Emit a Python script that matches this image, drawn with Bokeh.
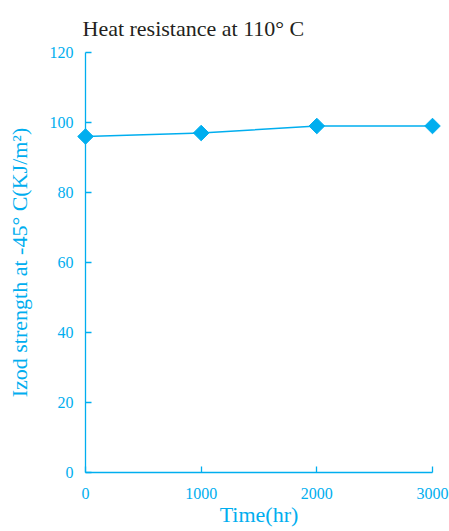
import numpy as np
from bokeh.plotting import figure
from bokeh.models import LinearAxis, FixedTicker, Range1d, ColumnDataSource
from bokeh.embed import file_html
from bokeh.resources import INLINE

# Data
time_hr = [0, 1000, 2000, 3000]
izod_strength = [96, 97, 99, 99]
x_ticks = [0, 1000, 2000, 3000]
y_ticks = [0, 20, 40, 60, 80, 100, 120]

CYAN = "#00AEEF"
DARK = "#231F20"
FONT = "Liberation Serif"

src = ColumnDataSource(dict(x=time_hr, y=izod_strength))

p = figure(
    width=449, height=531,
    x_range=Range1d(0, 3000), y_range=Range1d(0, 120),
    output_backend="svg", toolbar_location=None,
    x_axis_location=None, y_axis_location=None,
    min_border_left=85, min_border_right=17, min_border_top=52, min_border_bottom=59,
    background_fill_color="white", border_fill_color="white",
)
p.outline_line_color = None
p.grid.visible = False

p.title.text = "Heat resistance at 110° C"
p.title.text_font = FONT
p.title.text_font_size = "22px"
p.title.text_font_style = "normal"
p.title.text_color = DARK
p.title.align = "left"
p.title.offset = -3
p.title.standoff = 24


def style_axis(ax):
    ax.axis_line_color = CYAN
    ax.axis_line_width = 1.3
    ax.major_tick_line_color = CYAN
    ax.major_tick_line_width = 1.3
    ax.major_tick_in = 6
    ax.major_tick_out = 0
    ax.minor_tick_line_color = None
    ax.major_label_text_color = CYAN
    ax.major_label_text_font = FONT
    ax.major_label_text_font_size = "16px"
    ax.axis_label_text_color = CYAN
    ax.axis_label_text_font = FONT
    ax.axis_label_text_font_style = "normal"


xaxis = LinearAxis(ticker=FixedTicker(ticks=x_ticks), axis_label="Time(hr)")
style_axis(xaxis)
xaxis.major_label_standoff = 15
xaxis.axis_label_text_font_size = "22px"
xaxis.axis_label_standoff = 0
p.add_layout(xaxis, "below")

yaxis = LinearAxis(ticker=FixedTicker(ticks=y_ticks), axis_label="Izod strength at -45° C(KJ/m²)")
style_axis(yaxis)
yaxis.axis_label_text_font_size = "22px"
yaxis.major_label_standoff = 12
yaxis.axis_label_standoff = 15
p.add_layout(yaxis, "left")

p.line("x", "y", source=src, line_color=CYAN, line_width=1.5)
p.scatter("x", "y", source=src, marker="square", angle=np.pi / 4, size=11,
          fill_color=CYAN, line_color=CYAN, level="overlay")

open("out.html", "w").write(file_html(p, INLINE))
